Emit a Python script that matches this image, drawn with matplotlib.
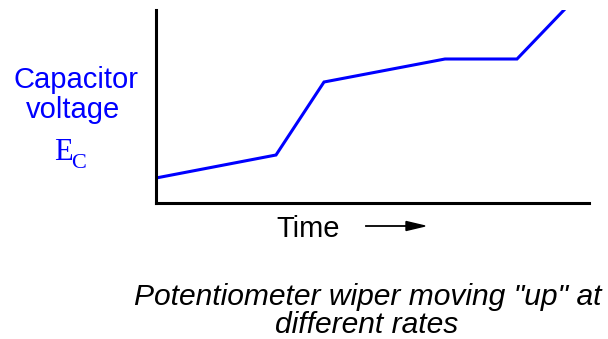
import matplotlib.pyplot as plt

# data (arbitrary units)
time = [0, 120, 168, 289, 361, 408]
voltage = [25, 48, 121, 144, 144, 193]

W, H = 608, 339
fig = plt.figure(figsize=(W / 100, H / 100), dpi=100)
plt.rcParams['font.family'] = ['Liberation Sans', 'DejaVu Sans']

# axes placed in pixel terms
x0, x1, y0, y1 = 156, 589, 10, 203
ax = fig.add_axes([x0 / W, 1 - y1 / H, (x1 - x0) / W, (y1 - y0) / H])
ax.plot(time, voltage, color='#0000ff', lw=2.2, solid_joinstyle='miter')
ax.set_xlim(0, x1 - x0)
ax.set_ylim(0, y1 - y0)
ax.set_xticks([])
ax.set_yticks([])
for s in ['top', 'right']:
    ax.spines[s].set_visible(False)
for s in ['left', 'bottom']:
    ax.spines[s].set_linewidth(2.2)

def px(x, y):
    return x / W, 1 - y / H

fig.text(*px(76, 80), 'Capacitor', color='#0000ff', fontsize=21, ha='center', va='center')
fig.text(*px(73, 110), 'voltage', color='#0000ff', fontsize=21, ha='center', va='center')
fig.text(*px(54, 160), r'E', color='#0000ff', fontsize=22, family='Liberation Serif',
         ha='left', va='baseline')
fig.text(*px(71, 168), r'C', color='#0000ff', fontsize=16, family='Liberation Serif',
         ha='left', va='baseline')

fig.text(*px(308, 237), 'Time', fontsize=21, ha='center', va='baseline')
fig.add_artist(plt.Line2D([366 / W, 408 / W], [1 - 226 / H] * 2, color='black', lw=1.3))
fig.add_artist(plt.Polygon([px(425, 226), px(406, 221.5), px(406, 230.5)],
                           closed=True, color='black'))

fig.text(*px(368, 305), 'Potentiometer wiper moving "up" at', fontsize=21.6,
         style='italic', ha='center', va='baseline')
fig.text(*px(367, 333), 'different rates', fontsize=21.6,
         style='italic', ha='center', va='baseline')

fig.savefig('out.png', dpi=100)
